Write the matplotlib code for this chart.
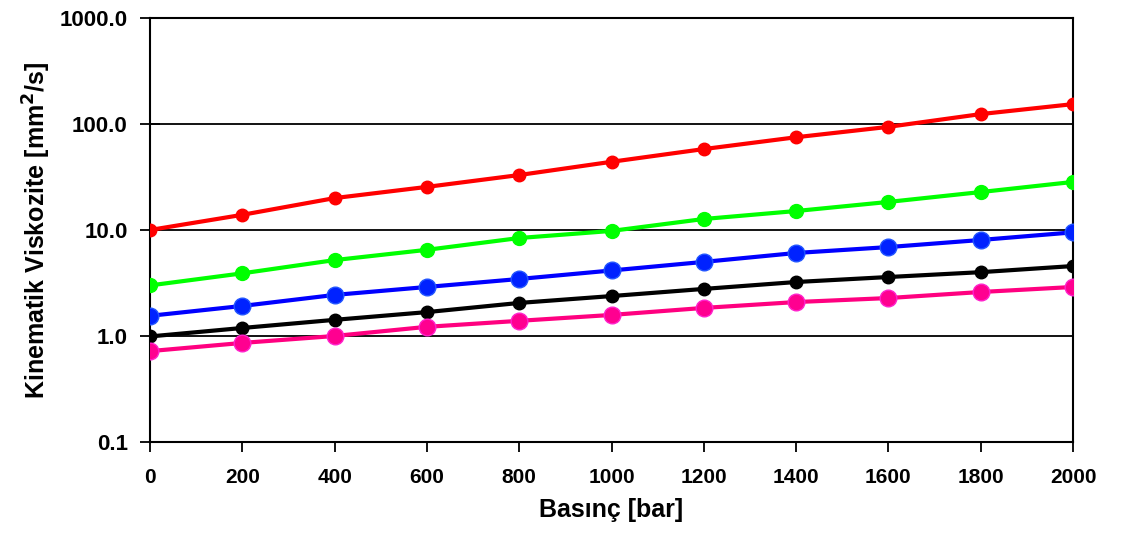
import numpy as np
import matplotlib.pyplot as plt
from matplotlib.ticker import FixedLocator, FormatStrFormatter, NullLocator

plt.rcParams['font.family'] = ['Liberation Sans', 'DejaVu Sans']

# pressure [bar]
pressure = [0, 200, 400, 600, 800, 1000, 1200, 1400, 1600, 1800, 2000]

# kinematic viscosity [mm2/s]
visc_red     = [10.0, 13.9, 20.0, 25.5, 33.0, 44.0, 58.0, 75.0, 94.0, 124.0, 154.0]
visc_green   = [3.0, 3.9, 5.2, 6.5, 8.4, 9.8, 12.7, 15.1, 18.4, 22.8, 28.4]
visc_blue    = [1.55, 1.92, 2.44, 2.9, 3.45, 4.15, 5.0, 6.07, 6.9, 8.05, 9.5]
visc_black   = [0.99, 1.19, 1.42, 1.68, 2.05, 2.38, 2.78, 3.23, 3.6, 4.0, 4.57]
visc_magenta = [0.72, 0.86, 1.0, 1.22, 1.39, 1.58, 1.84, 2.09, 2.28, 2.6, 2.9]

y_ticks = [0.1, 1.0, 10.0, 100.0, 1000.0]
x_ticks = [0, 200, 400, 600, 800, 1000, 1200, 1400, 1600, 1800, 2000]

fig = plt.figure(figsize=(11.21, 5.39), dpi=100)
ax = fig.add_axes([0.1338, 0.18, 0.8234, 0.7866])

## grid at decades ##
for yv in y_ticks[1:-1]:
    ax.axhline(yv, color='black', linewidth=1.3, zorder=1)

ax.plot(pressure, visc_red, color='#ff0000', linewidth=3, marker='o', markersize=9, zorder=3)
ax.plot(pressure, visc_green, color='#00ff00', linewidth=3, marker='o', markersize=10, zorder=3)
ax.plot(pressure, visc_blue, color='#0000ff', linewidth=3, marker='o', markersize=12,
        markerfacecolor='#0022ff', markeredgecolor='#2255ff', zorder=3)
ax.plot(pressure, visc_black, color='black', linewidth=3, marker='o', markersize=9, zorder=3)
ax.plot(pressure, visc_magenta, color='#ff0080', linewidth=3, marker='o', markersize=12,
        markerfacecolor='#ff0090', markeredgecolor='#ff22cc', zorder=3)

ax.set_yscale('log')
ax.set_ylim(0.1, 1000)
ax.set_xlim(0, 2000)
ax.yaxis.set_major_locator(FixedLocator(y_ticks))
ax.yaxis.set_minor_locator(NullLocator())
ax.yaxis.set_major_formatter(FormatStrFormatter('%.1f'))
ax.set_xticks(x_ticks)

for s in ax.spines.values():
    s.set_linewidth(1.5)
ax.tick_params(axis='y', direction='inout', length=14, width=1.3, labelsize=16, pad=9)
ax.tick_params(axis='x', direction='out', length=7, width=1.3, labelsize=15, pad=12)
for lab in ax.get_yticklabels() + ax.get_xticklabels():
    lab.set_fontweight('bold')

ax.set_xlabel("Basınç [bar]", fontsize=18, fontweight='bold', labelpad=8)
ax.set_ylabel("Kinematik Viskozite [mm$^{\\mathbf{2}}$/s]", fontsize=18, fontweight='bold', labelpad=5)

fig.savefig('out.png', dpi=100)
